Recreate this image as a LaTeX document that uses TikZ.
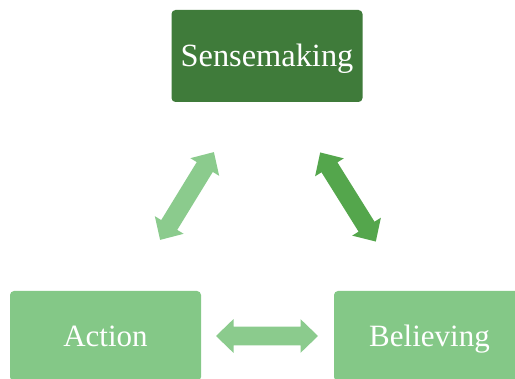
\documentclass[tikz,border=0pt]{standalone}
\usepackage{fontspec}
\setmainfont{Liberation Serif}
\usetikzlibrary{shapes.arrows}

\definecolor{darkleaf}{HTML}{3F7B3A}
\definecolor{paleleaf}{HTML}{84C887}
\definecolor{palearrow}{HTML}{8BCB8D}
\definecolor{midarrow}{HTML}{54A64C}

\tikzset{
  stagebox/.style={rounded corners=2pt, text=white, inner sep=0pt,
    minimum width=95.5pt, text depth=0pt},
  topbox/.style={stagebox, fill=darkleaf, minimum height=46pt,
    font=\fontsize{16.2pt}{19pt}\selectfont, text height=10.7pt},
  lowbox/.style={stagebox, fill=paleleaf, minimum height=45pt,
    font=\fontsize{15.5pt}{18pt}\selectfont, text height=10.2pt},
  linkarrow/.style={double arrow, inner sep=0pt, text height=9pt,
    text depth=0pt, minimum width=16.5pt,
    double arrow head extend=3.75pt, double arrow tip angle=88},
}

\begin{document}
\begin{tikzpicture}[x=0.5pt,y=-0.5pt]
  \useasboundingbox (0,0) rectangle (515,379);
  \clip (0,0) rectangle (515,379);

  % the three stages
  \node[topbox] (sense) at (267,56) {Sensemaking};
  \node[lowbox] (action) at (105.5,336) {Action};
  \node[lowbox] (believe) at (429.5,336) {Believing};

  % two-way links between the stages
  \node[linkarrow, fill=palearrow, minimum height=51.5pt, rotate=58.5]
    (senseaction) at (187,196) {};
  \node[linkarrow, fill=midarrow, minimum height=52.5pt, rotate=-58]
    (sensebelieve) at (348,197) {};
  \node[linkarrow, fill=palearrow, minimum height=51pt]
    (actionbelieve) at (267,336) {};
\end{tikzpicture}
\end{document}
